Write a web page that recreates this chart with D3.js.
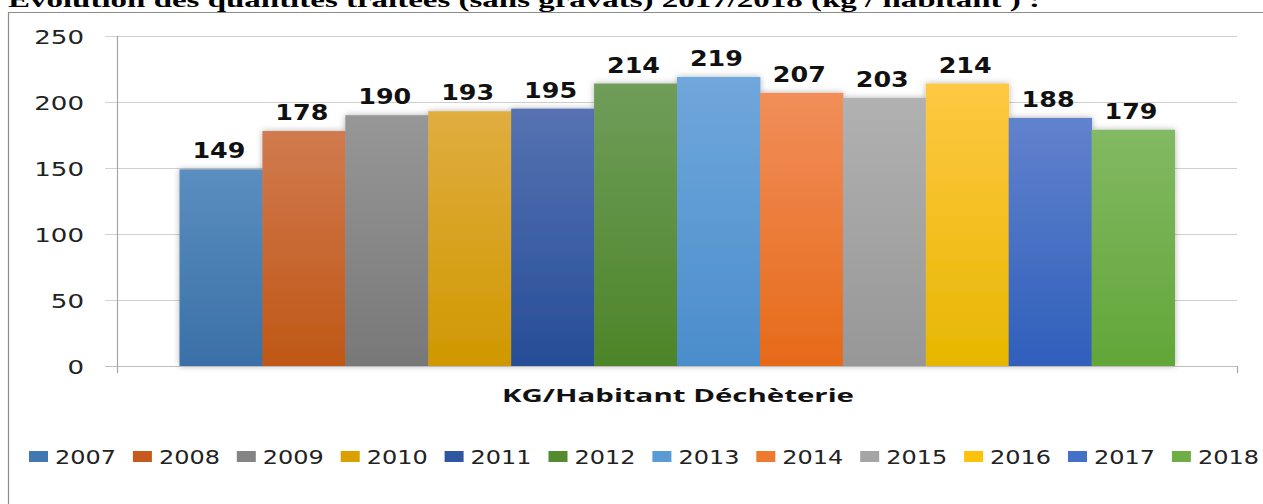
<!DOCTYPE html>
<html>
<head>
<meta charset="utf-8">
<script src="https://cdn.jsdelivr.net/npm/d3@7"></script>
<style>
  html, body { margin: 0; padding: 0; background: #fff; }
  svg { display: block; }
</style>
</head>
<body>
<svg id="chart" width="1263" height="504"></svg>
<script>
// ---- data ----
const category = "KG/Habitant Déchèterie";
const years = ["2007","2008","2009","2010","2011","2012","2013","2014","2015","2016","2017","2018"];
const values = [149, 178, 190, 193, 195, 214, 219, 207, 203, 214, 188, 179];
const yTicks = [0, 50, 100, 150, 200, 250];
const titleText = "Evolution des quantités traitées (sans gravats) 2017/2018 (kg / habitant ) :";

// ---- styles (top colour, bottom colour, legend colour) ----
const palette = [
  ["#5b8ec0", "#3a70a7", "#4379b3"],
  ["#d17a4e", "#bf5716", "#c55a1c"],
  ["#979797", "#787878", "#848484"],
  ["#e0ad40", "#d09800", "#d9a000"],
  ["#5672b2", "#264d97", "#2f56a0"],
  ["#6f9d5a", "#4d8528", "#558b2f"],
  ["#70a7dc", "#4a8dcb", "#5a9bd6"],
  ["#f18e5a", "#e66a18", "#ee7a30"],
  ["#b1b1b1", "#979797", "#a5a5a5"],
  ["#ffc844", "#e7b700", "#ffc20a"],
  ["#6282cd", "#2f5fbb", "#4470c6"],
  ["#82b963", "#62a638", "#6fae45"]
];

const svg = d3.select("#chart");
const W = 1263, H = 504;

// defs: gradients + shadow
const defs = svg.append("defs");
palette.forEach((c, i) => {
  const g = defs.append("linearGradient").attr("id", "g" + i)
    .attr("x1", 0).attr("y1", 0).attr("x2", 0).attr("y2", 1);
  g.append("stop").attr("offset", "0%").attr("stop-color", c[0]);
  g.append("stop").attr("offset", "100%").attr("stop-color", c[1]);
});
const f = defs.append("filter").attr("id", "shadow")
  .attr("x", "-5%").attr("y", "-5%").attr("width", "110%").attr("height", "110%");
f.append("feDropShadow").attr("dx", 0).attr("dy", 0).attr("stdDeviation", 3)
  .attr("flood-color", "#000").attr("flood-opacity", 0.3);

// title (cut at the top, as in the reference)
svg.append("text")
  .attr("x", 8).attr("y", 7)
  .attr("font-family", "'Liberation Serif', 'Times New Roman', serif")
  .attr("font-weight", "bold").attr("font-size", 21)
  .attr("textLength", 1032).attr("lengthAdjust", "spacingAndGlyphs")
  .attr("fill", "#000")
  .text(titleText);

// frame
svg.append("path")
  .attr("d", `M8.5,${H} V12.5 H${W}`)
  .attr("fill", "none").attr("stroke", "#8c8c8c").attr("stroke-width", 1.2);

// scales
const plotL = 117, plotR = 1237, plotT = 36, plotB = 366;
const x0 = d3.scaleBand().domain([category]).range([plotL, plotR])
  .paddingInner(0).paddingOuter(0.0628);
const x1 = d3.scaleBand().domain(years).range([0, x0.bandwidth()]).padding(0);
const y = d3.scaleLinear().domain([0, 250]).range([plotB, plotT]);

// gridlines
svg.append("g").selectAll("line").data(yTicks.filter(d => d > 0)).join("line")
  .attr("x1", 105).attr("x2", plotR)
  .attr("y1", d => Math.round(y(d)) + 0.5).attr("y2", d => Math.round(y(d)) + 0.5)
  .attr("stroke", "#d0d0d0").attr("stroke-width", 1);

// y tick labels
const yAxis = d3.axisLeft(y).tickValues(yTicks).tickSize(0).tickPadding(0);
const yg = svg.append("g").attr("transform", `translate(84,0)`).call(yAxis);
yg.select(".domain").remove();
yg.selectAll("text")
  .attr("font-family", "'DejaVu Sans', sans-serif")
  .attr("font-size", 20).attr("fill", "#222")
  .attr("dy", "0.36em")
  .attr("textLength", d => String(d).length * 16.6)
  .attr("lengthAdjust", "spacingAndGlyphs");

// bars
const barG = svg.append("g").attr("filter", "url(#shadow)");
barG.selectAll("rect").data(values).join("rect")
  .attr("x", (d, i) => x0(category) + x1(years[i]))
  .attr("y", d => y(d))
  .attr("width", x1.bandwidth() + 0.5)
  .attr("height", d => y(0) - y(d))
  .attr("fill", (d, i) => `url(#g${i})`);

// axes lines
svg.append("line").attr("x1", 105).attr("x2", plotR)
  .attr("y1", plotB + 0.5).attr("y2", plotB + 0.5)
  .attr("stroke", "#bdbdbd").attr("stroke-width", 1.2);
svg.append("line").attr("x1", plotL + 0.5).attr("x2", plotL + 0.5)
  .attr("y1", plotT).attr("y2", plotB + 7)
  .attr("stroke", "#a6a6a6").attr("stroke-width", 1.2);
svg.append("line").attr("x1", plotR + 0.5).attr("x2", plotR + 0.5)
  .attr("y1", plotB).attr("y2", plotB + 7)
  .attr("stroke", "#a6a6a6").attr("stroke-width", 1.2);

// value labels
svg.append("g").selectAll("text").data(values).join("text")
  .attr("x", (d, i) => x0(category) + x1(years[i]) + x1.bandwidth() / 2 - 2)
  .attr("y", d => y(d) - 11)
  .attr("text-anchor", "middle")
  .attr("font-family", "'DejaVu Sans', sans-serif")
  .attr("font-weight", "bold").attr("font-size", 21).attr("fill", "#111")
  .attr("textLength", 53).attr("lengthAdjust", "spacingAndGlyphs")
  .text(d => d);

// category title
svg.append("text")
  .attr("x", 678).attr("y", 402)
  .attr("text-anchor", "middle")
  .attr("font-family", "'Open Sans', 'DejaVu Sans', sans-serif")
  .attr("font-weight", "bold").attr("font-size", 18).attr("fill", "#111")
  .attr("textLength", 352).attr("lengthAdjust", "spacingAndGlyphs")
  .text(category);

// legend
const legStep = 103.9;
const leg = svg.append("g").selectAll("g").data(years).join("g")
  .attr("transform", (d, i) => `translate(${29 + i * legStep},0)`);
leg.append("rect")
  .attr("x", 0).attr("y", 451).attr("width", 19).attr("height", 11)
  .attr("fill", (d, i) => palette[i][2]);
leg.append("text")
  .attr("x", 26).attr("y", 464)
  .attr("font-family", "'DejaVu Sans', sans-serif")
  .attr("font-size", 20).attr("fill", "#222")
  .attr("textLength", 61).attr("lengthAdjust", "spacingAndGlyphs")
  .text(d => d);
</script>
</body>
</html>
